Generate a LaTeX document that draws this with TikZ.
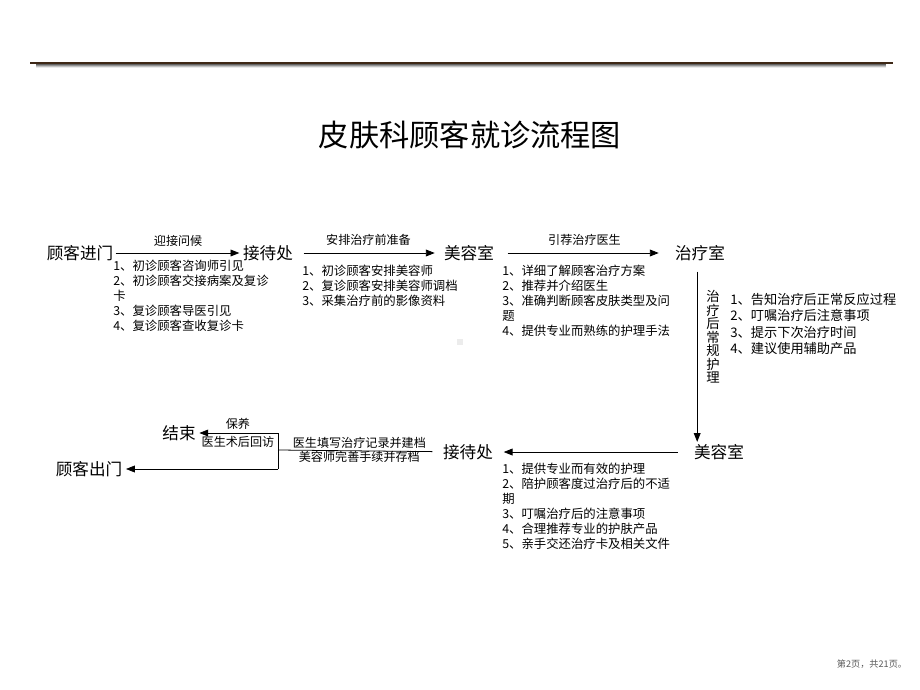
\documentclass[tikz,border=0pt]{standalone}
\usepackage{fontspec}
\setmainfont{Noto Sans CJK SC}
\usetikzlibrary{arrows.meta,positioning}
\definecolor{rulebrown}{RGB}{62,40,22}
\definecolor{pagegray}{RGB}{90,90,90}

\tikzset{
  station/.style={font=\fontsize{11.8}{12}\selectfont, inner sep=1.5pt},
  steptext/.style={font=\fontsize{8.8}{10.7}\selectfont, align=left, anchor=north west, inner sep=0pt},
  flowlabel/.style={font=\fontsize{8.6}{10}\selectfont, inner sep=2pt},
  flowarrow/.style={-{Triangle[length=2.2mm,width=1.7mm]}, line width=0.55pt},
  flowline/.style={line width=0.55pt},
}

\begin{document}
\begin{tikzpicture}[x=0.025cm, y=-0.025cm]
\useasboundingbox (0,0) rectangle (920,690);
% Top rule with shadow
\foreach \d/\o in {1/0.45, 2/0.3, 3/0.18, 4/0.08}
  \draw[line width=1.2pt, black, opacity=\o] (36,{63+\d}) -- (886,{63+\d});
\draw[line width=2pt, rulebrown] (30,63) -- (893,63);
% Title
\node[font=\fontsize{21.5}{22}\selectfont] (title) at (470,135) {皮肤科顾客就诊流程图};
% Top row
\node[station] (enter) at (80,253) {顾客进门};
\node[station] (recep1) at (268,253) {接待处};
\node[station] (beauty1) at (469,253) {美容室};
\node[station] (treat) at (700,253) {治疗室};
\draw[flowarrow, shorten >=1pt] (enter) -- node[flowlabel, above=2pt] {迎接问候} (recep1);
\draw[flowarrow, shorten <=6pt, shorten >=5pt] (recep1) -- node[flowlabel, above=3pt] {安排治疗前准备} (beauty1);
\draw[flowarrow, shorten <=8pt, shorten >=10pt] (beauty1) -- node[flowlabel, above=3pt] {引荐治疗医生} (treat);
% Step lists
\node[steptext] (list1) at (113,260) {1、初诊顾客咨询师引见\\2、初诊顾客交接病案及复诊\\卡\\3、复诊顾客导医引见\\4、复诊顾客查收复诊卡};
\node[steptext] (list2) at (302,265) {1、初诊顾客安排美容师\\2、复诊顾客安排美容师调档\\3、采集治疗前的影像资料};
\node[steptext] (list3) at (502,265) {1、详细了解顾客治疗方案\\2、推荐并介绍医生\\3、准确判断顾客皮肤类型及问\\题\\4、提供专业而熟练的护理手法};
\fill[gray!15] (457,339) rectangle (463,345);
% Right column
\node[station] (beauty2) at (719,452) {美容室};
\draw[flowarrow] ([xshift=-2pt,yshift=-6pt]treat.south) -- ([xshift=-2pt]treat.south |- beauty2.north);
\node[font=\fontsize{9.5}{9.6}\selectfont, align=center, inner sep=0pt] (aftercare) at (713,337) {治\\疗\\后\\常\\规\\护\\理};
\node[steptext, font=\fontsize{9.4}{11.7}\selectfont] (list4) at (730,293) {1、告知治疗后正常反应过程\\2、叮嘱治疗后注意事项\\3、提示下次治疗时间\\4、建议使用辅助产品};
% Bottom row
\node[station] (recep2) at (468,452) {接待处};
\draw[flowarrow, shorten <=10pt, shorten >=6pt] (beauty2) -- (recep2);
\node[steptext] (list5) at (502,463) {1、提供专业而有效的护理\\2、陪护顾客度过治疗后的不适\\期\\3、叮嘱治疗后的注意事项\\4、合理推荐专业的护肤产品\\5、亲手交还治疗卡及相关文件};
\coordinate (fork) at (278,450);
\coordinate (forktop) at (278,433);
\coordinate (forkbot) at (278,469);
\draw[flowline, shorten <=6pt] (recep2) -- node[flowlabel, inner sep=0pt, above=1.5pt] {医生填写治疗记录并建档} node[flowlabel, inner sep=0pt, below=0pt] {美容师完善手续并存档} (fork);
\draw[flowline] (forktop) -- (forkbot);
\node[station] (finish) at (179,433) {结束};
\node[station] (leave) at (89,469) {顾客出门};
\draw[flowarrow, shorten >=1pt] (forktop) -- node[flowlabel, above=0pt] {保养} node[flowlabel, below=0pt] {医生术后回访} (finish);
\draw[flowarrow, shorten >=1pt] (forkbot) -- (leave);
% Footer
\node[font=\fontsize{6.5}{7}\selectfont, text=pagegray] (pageno) at (872,664) {第2页，共21页。};
\end{tikzpicture}
\end{document}
